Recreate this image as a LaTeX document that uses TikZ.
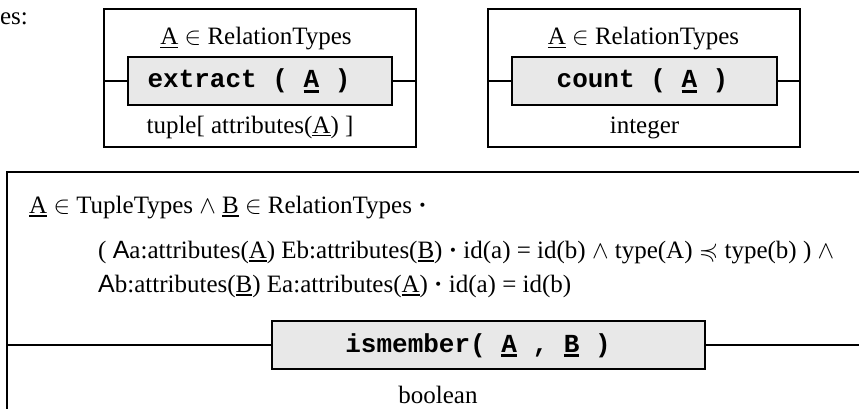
\documentclass[tikz,border=0pt]{standalone}
\usepackage{amssymb}
\usepackage{fontspec}
\setmainfont{Liberation Serif}
\setmonofont{Liberation Mono}
\newfontfamily\sansA{Liberation Sans}
\newsavebox\ulbox
\newcommand\myul[1]{\sbox\ulbox{#1}\rlap{\rule[-3.5pt]{\wd\ulbox}{1.3pt}}\usebox\ulbox}
\newcommand\codeul[1]{\sbox\ulbox{#1}\rlap{\rule[-5pt]{\wd\ulbox}{3pt}}\usebox\ulbox}
\tikzset{
  outerbox/.style={draw, line width=2pt, inner sep=0pt, outer sep=0pt},
  bigbox/.style={draw, line width=2.5pt, inner sep=0pt, outer sep=0pt},
  innerbox/.style={draw, line width=1.8pt, fill=black!9, inner sep=0pt, outer sep=0pt},
  link/.style={line width=2pt},
  txt/.style={inner sep=0pt, anchor=base},
  code/.style={inner sep=0pt, anchor=base, font=\fontsize{26}{30}\selectfont\ttfamily\bfseries},
}
\begin{document}
\begin{tikzpicture}[x=1pt,y=-1pt,font=\fontsize{25}{30}\selectfont]
\clip (0,0) rectangle (859,409);
\fill[white] (0,0) rectangle (859,409);
% label cut-off
\node[txt, anchor=base east] (es) at (28,25) {es:};
% box 1
\node[outerbox, minimum width=312pt, minimum height=138pt] (box1) at (260,78) {};
\node[innerbox, minimum width=264pt, minimum height=48pt] (in1) at (260,81) {};
\draw[link] (in1.west) -- (in1.west -| box1.west);
\draw[link] (in1.east) -- (in1.east -| box1.east);
\node[txt] (t1) at (256,45) {\myul{A} $\in$ RelationTypes};
\node[code] (c1) at (249,88) {extract ( \codeul{A} )};
\node[txt] (r1) at (250,133) {tuple[ attributes(\myul{A}) ]};
% box 2
\node[outerbox, minimum width=312pt, minimum height=138pt] (box2) at (644,78) {};
\node[innerbox, minimum width=265pt, minimum height=48pt] (in2) at (644.5,81) {};
\draw[link] (in2.west) -- (in2.west -| box2.west);
\draw[link] (in2.east) -- (in2.east -| box2.east);
\node[txt] (t2) at (643.5,45) {\myul{A} $\in$ RelationTypes};
\node[code] (c2) at (642.5,88) {count ( \codeul{A} )};
\node[txt] (r2) at (644.5,133) {integer};
% big box
\node[bigbox, anchor=north west, minimum width=873pt, minimum height=260pt] (big) at (7,172) {};
\node[txt, anchor=base west] (l1) at (29,213) {\myul{A} $\in$ TupleTypes $\wedge$ \myul{B} $\in$ RelationTypes {\bfseries\textperiodcentered}};
\node[txt, anchor=base west] (l2) at (98,258) {( {\sansA A}a:attributes(\myul{A}) Eb:attributes(\myul{B}) {\bfseries\textperiodcentered} id(a) = id(b) $\wedge$ type(A) $\preccurlyeq$ type(b) ) $\wedge$};
\node[txt, anchor=base west] (l3) at (98,292) {{\sansA A}b:attributes(\myul{B}) Ea:attributes(\myul{A}) {\bfseries\textperiodcentered} id(a) = id(b)};
\node[innerbox, minimum width=433pt, minimum height=48pt] (ism) at (488.5,345) {};
\draw[link] (ism.west) -- (ism.west -| big.west);
\draw[link] (ism.east) -- (ism.east -| big.east);
\node[code] (c3) at (478,352) {ismember( \codeul{A} , \codeul{B} )};
\node[txt] (r3) at (438,403) {boolean};
\end{tikzpicture}
\end{document}
